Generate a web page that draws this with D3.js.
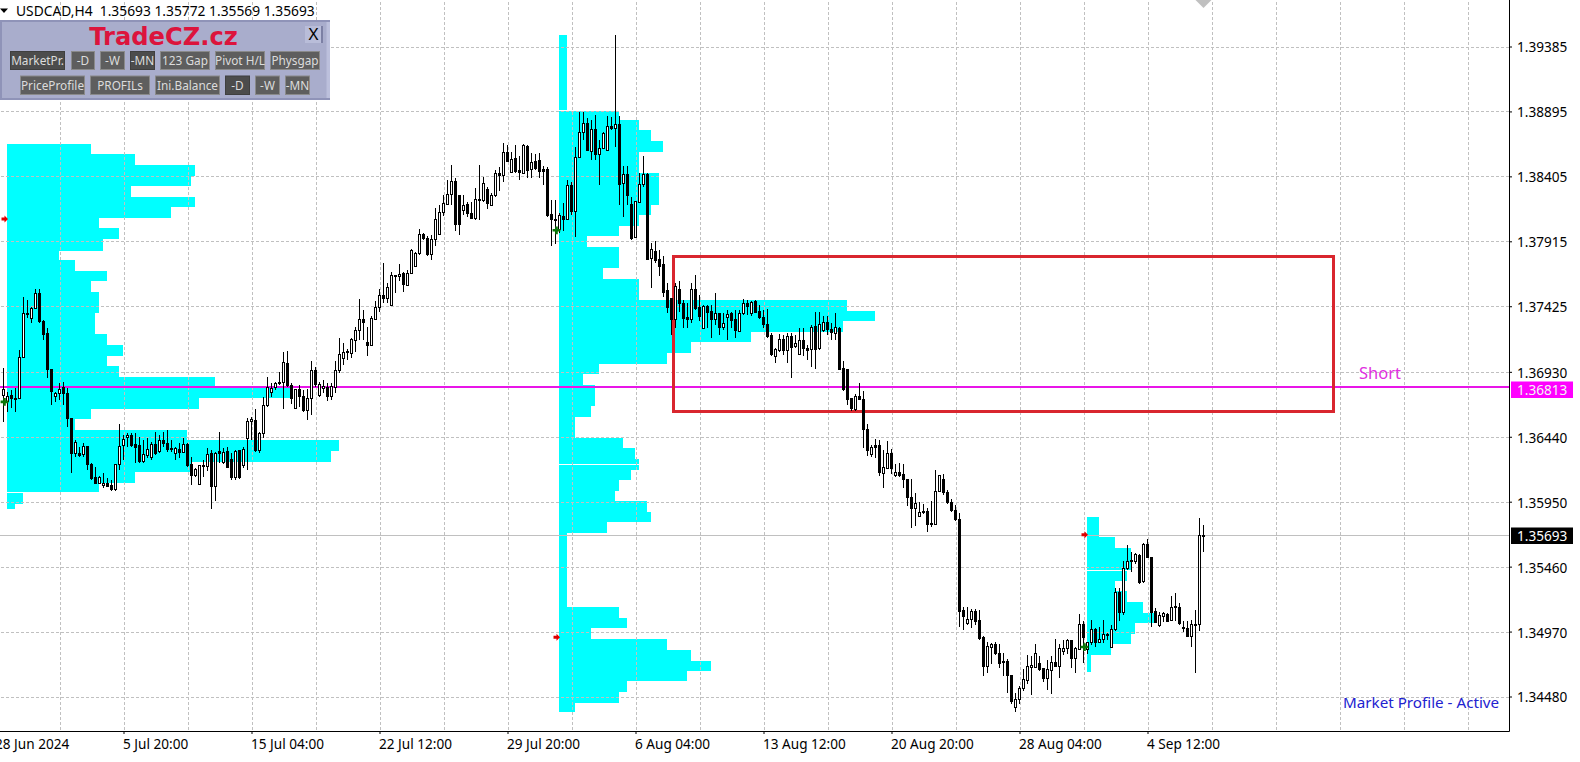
<!DOCTYPE html>
<html>
<head>
<meta charset="utf-8">
<script src="https://cdn.jsdelivr.net/npm/d3@7"></script>
<style>
  body { margin: 0; background: #fff; }
  svg { display: block; }
  text { font-family: "Noto Sans", sans-serif; }
  .axis text { font-size: 13.6px; fill: #000; }
  .axis path, .axis line { stroke: #000; }
  .grid line { stroke: #c0c0c0; stroke-dasharray: 3 2; }
  .grid path, .grid text { display: none; }
</style>
</head>
<body>
<div id="chart"></div>
<script>
const symbolTitle = "USDCAD,H4  1.35693 1.35772 1.35569 1.35693";

const opens = [
  1.36748,1.36706,1.36748,1.36731,1.36731,1.37040,1.37372,1.37334,1.37410,1.37523,
  1.37309,1.37216,1.36950,1.36743,1.36764,1.36811,1.36769,1.36580,1.36311,1.36316,
  1.36303,1.36366,1.36233,1.36132,1.36090,1.36069,1.36090,1.36069,1.36044,1.36228,
  1.36371,1.36437,1.36447,1.36379,1.36371,1.36253,1.36296,1.36286,1.36379,1.36328,
  1.36409,1.36391,1.36354,1.36311,1.36346,1.36323,1.36379,1.36228,1.36145,1.36082,
  1.36215,1.36215,1.36311,1.36064,1.36328,1.36245,1.36328,1.36266,1.36135,1.36333,
  1.36225,1.36427,1.36555,1.36562,1.36333,1.36467,1.36673,1.36774,1.36814,1.36849,
  1.36849,1.36990,1.36824,1.36655,1.36794,1.36743,1.36635,1.36726,1.36937,1.36748,
  1.36806,1.36814,1.36743,1.36814,1.36937,1.37033,1.37076,1.37071,1.37167,1.37239,
  1.37322,1.37154,1.37129,1.37327,1.37418,1.37509,1.37486,1.37433,1.37654,1.37649,
  1.37670,1.37581,1.37675,1.37725,1.37825,1.37969,1.37934,1.37815,1.37926,1.37969,
  1.38132,1.38193,1.38266,1.38366,1.38261,1.38145,1.38190,1.38127,1.38090,1.38228,
  1.38223,1.38308,1.38183,1.38258,1.38429,1.38411,1.38585,1.38434,1.38540,1.38447,
  1.38429,1.38630,1.38454,1.38517,1.38522,1.38454,1.38454,1.38115,1.38082,1.38007,
  1.38102,1.38082,1.38333,1.38140,1.38550,1.38738,1.38806,1.38593,1.38756,1.38572,
  1.38618,1.38600,1.38781,1.38766,1.38799,1.38354,1.38422,1.38195,1.37944,1.38208,
  1.38346,1.38417,1.37785,1.37838,1.37775,1.37737,1.37541,1.37481,1.37328,1.37549,
  1.37448,1.37340,1.37328,1.37549,1.37416,1.37260,1.37423,1.37385,1.37322,1.37368,
  1.37267,1.37343,1.37368,1.37322,1.37237,1.37373,1.37443,1.37373,1.37461,1.37383,
  1.37340,1.37285,1.37202,1.37046,1.37091,1.37177,1.37089,1.37197,1.37121,1.37063,
  1.37167,1.37109,1.37096,1.37272,1.37104,1.37240,1.37302,1.37252,1.37222,1.37260,
  1.36955,1.36945,1.36726,1.36643,1.36744,1.36724,1.36497,1.36304,1.36372,1.36372,
  1.36165,1.36203,1.36311,1.36148,1.36173,1.36153,1.36120,1.35984,1.35899,1.35838,
  1.35876,1.35879,1.35778,1.35781,1.36027,1.36120,1.36022,1.35947,1.35884,1.35818,
  1.35127,1.35034,1.35059,1.35124,1.35051,1.34928,1.34707,1.34850,1.34870,1.34807,
  1.34747,1.34747,1.34639,1.34400,1.34460,1.34538,1.34601,1.34702,1.34702,1.34727,
  1.34689,1.34613,1.34676,1.34739,1.34707,1.34820,1.34845,1.34900,1.34764,1.34837,
  1.35026,1.34832,1.34888,1.34988,1.34888,1.34913,1.34940,1.34852,1.34983,1.35267,
  1.35114,1.35443,1.35496,1.35499,1.35547,1.35348,1.35629,1.35531,1.35121,1.35013,
  1.35084,1.35101,1.35054,1.35149,1.35154,1.35003,1.34996,1.34933,1.35026,1.35021,
  1.35693
];
const highs = [
  1.36957,1.36781,1.36794,1.36806,1.37096,1.37498,1.37473,1.37422,1.37553,1.37553,
  1.37322,1.37259,1.36950,1.36781,1.36844,1.36857,1.36806,1.36580,1.36416,1.36366,
  1.36391,1.36366,1.36240,1.36215,1.36145,1.36165,1.36127,1.36115,1.36228,1.36537,
  1.36454,1.36472,1.36472,1.36472,1.36442,1.36416,1.36429,1.36404,1.36479,1.36454,
  1.36479,1.36492,1.36416,1.36361,1.36391,1.36429,1.36391,1.36291,1.36203,1.36228,
  1.36266,1.36354,1.36341,1.36328,1.36479,1.36354,1.36366,1.36316,1.36341,1.36341,
  1.36366,1.36580,1.36592,1.36648,1.36479,1.36743,1.36894,1.36844,1.36857,1.36932,
  1.37078,1.37088,1.36844,1.36799,1.36831,1.36794,1.36799,1.37015,1.36970,1.36857,
  1.36869,1.36844,1.36844,1.37012,1.37184,1.37146,1.37104,1.37184,1.37272,1.37481,
  1.37398,1.37272,1.37348,1.37461,1.37554,1.37750,1.37599,1.37687,1.37659,1.37742,
  1.37687,1.37700,1.37858,1.37838,1.38009,1.37976,1.37956,1.37964,1.38165,1.38190,
  1.38266,1.38379,1.38492,1.38396,1.38266,1.38266,1.38215,1.38208,1.38316,1.38492,
  1.38404,1.38323,1.38278,1.38454,1.38474,1.38655,1.38643,1.38592,1.38643,1.38555,
  1.38648,1.38643,1.38580,1.38575,1.38585,1.38484,1.38479,1.38228,1.38223,1.38132,
  1.38203,1.38374,1.38359,1.38625,1.38889,1.38887,1.38844,1.38831,1.38869,1.38681,
  1.38743,1.38864,1.38852,1.39473,1.38857,1.38487,1.38484,1.38253,1.38220,1.38434,
  1.38560,1.38429,1.37901,1.37914,1.37851,1.37805,1.37599,1.37486,1.37599,1.37619,
  1.37473,1.37448,1.37599,1.37662,1.37511,1.37436,1.37436,1.37436,1.37524,1.37373,
  1.37373,1.37398,1.37385,1.37398,1.37398,1.37478,1.37473,1.37468,1.37473,1.37436,
  1.37398,1.37403,1.37222,1.37109,1.37217,1.37209,1.37222,1.37222,1.37209,1.37260,
  1.37260,1.37134,1.37285,1.37385,1.37385,1.37353,1.37348,1.37302,1.37373,1.37272,
  1.37008,1.36945,1.36736,1.36764,1.36849,1.36782,1.36538,1.36379,1.36424,1.36417,
  1.36341,1.36409,1.36346,1.36236,1.36241,1.36236,1.36120,1.36120,1.36014,1.35947,
  1.35934,1.35901,1.35952,1.36190,1.36153,1.36160,1.36035,1.35969,1.35926,1.35864,
  1.35154,1.35154,1.35142,1.35144,1.35129,1.34933,1.34895,1.34883,1.34888,1.34878,
  1.34812,1.34762,1.34644,1.34505,1.34556,1.34686,1.34795,1.34782,1.34878,1.34782,
  1.34694,1.34757,1.34787,1.34913,1.34878,1.34908,1.34913,1.34908,1.34857,1.35104,
  1.35046,1.34895,1.35059,1.34996,1.35008,1.35059,1.34958,1.35021,1.35298,1.35298,
  1.35506,1.35624,1.35567,1.35562,1.35554,1.35642,1.35667,1.35536,1.35147,1.35121,
  1.35121,1.35109,1.35240,1.35260,1.35184,1.35046,1.35046,1.35054,1.35134,1.35826,
  1.35772
];
const lows = [
  1.36555,1.36630,1.36655,1.36630,1.36726,1.37040,1.37334,1.37297,1.37402,1.37297,
  1.37171,1.36882,1.36681,1.36706,1.36718,1.36681,1.36517,1.36170,1.36291,1.36291,
  1.36291,1.36190,1.36115,1.36090,1.36082,1.36052,1.36059,1.36027,1.36034,1.36190,
  1.36266,1.36366,1.36366,1.36240,1.36240,1.36240,1.36278,1.36266,1.36303,1.36316,
  1.36366,1.36328,1.36328,1.36266,1.36278,1.36316,1.36215,1.36077,1.36140,1.36077,
  1.36140,1.36178,1.35893,1.35959,1.36240,1.36235,1.36203,1.36115,1.36115,1.36120,
  1.36203,1.36190,1.36416,1.36328,1.36316,1.36429,1.36668,1.36743,1.36794,1.36831,
  1.36648,1.36814,1.36688,1.36648,1.36668,1.36630,1.36567,1.36605,1.36819,1.36743,
  1.36769,1.36713,1.36718,1.36774,1.36920,1.36983,1.37021,1.37033,1.37083,1.37172,
  1.37172,1.37053,1.37126,1.37322,1.37385,1.37448,1.37448,1.37428,1.37524,1.37612,
  1.37529,1.37574,1.37670,1.37720,1.37813,1.37926,1.37805,1.37775,1.37876,1.37964,
  1.38107,1.38190,1.38190,1.37989,1.37964,1.38115,1.38097,1.38082,1.38077,1.38072,
  1.38215,1.38160,1.38178,1.38253,1.38291,1.38366,1.38510,1.38429,1.38434,1.38379,
  1.38424,1.38391,1.38391,1.38454,1.38391,1.38341,1.38102,1.37876,1.37896,1.37976,
  1.37989,1.38077,1.38115,1.37951,1.38542,1.38676,1.38593,1.38530,1.38530,1.38341,
  1.38610,1.38593,1.38756,1.38630,1.38190,1.38095,1.38190,1.37926,1.37939,1.38203,
  1.38328,1.37775,1.37566,1.37750,1.37654,1.37498,1.37373,1.37209,1.37260,1.37385,
  1.37260,1.37260,1.37302,1.37398,1.37310,1.37252,1.37260,1.37184,1.37285,1.37209,
  1.37247,1.37172,1.37260,1.37184,1.37227,1.37360,1.37360,1.37353,1.37373,1.37328,
  1.37260,1.37184,1.37051,1.36996,1.37083,1.37058,1.36996,1.36882,1.37109,1.37058,
  1.37046,1.37021,1.36970,1.36950,1.37096,1.37229,1.37209,1.37167,1.37167,1.36945,
  1.36789,1.36681,1.36638,1.36638,1.36719,1.36354,1.36296,1.36291,1.36279,1.36145,
  1.36052,1.36196,1.36160,1.36140,1.36140,1.36052,1.35914,1.35755,1.35768,1.35833,
  1.35858,1.35718,1.35758,1.35776,1.36020,1.36002,1.35934,1.35869,1.35801,1.35008,
  1.34983,1.35021,1.34996,1.35021,1.34903,1.34631,1.34661,1.34727,1.34795,1.34694,
  1.34631,1.34510,1.34425,1.34360,1.34425,1.34518,1.34576,1.34493,1.34694,1.34669,
  1.34593,1.34530,1.34500,1.34701,1.34618,1.34795,1.34802,1.34694,1.34656,1.34832,
  1.34732,1.34802,1.34870,1.34857,1.34883,1.34883,1.34908,1.34845,1.34971,1.35046,
  1.35096,1.35436,1.35416,1.35481,1.35330,1.35335,1.35524,1.35003,1.35033,1.35003,
  1.35039,1.35039,1.35049,1.35046,1.35021,1.34963,1.34928,1.34857,1.34661,1.34971,
  1.35569
];
const closes = [
  1.36794,1.36743,1.36728,1.36726,1.37040,1.37372,1.37360,1.37410,1.37523,1.37309,
  1.37209,1.36950,1.36781,1.36769,1.36799,1.36769,1.36580,1.36311,1.36399,1.36298,
  1.36366,1.36228,1.36127,1.36090,1.36135,1.36090,1.36064,1.36044,1.36228,1.36366,
  1.36421,1.36447,1.36371,1.36361,1.36253,1.36303,1.36341,1.36379,1.36316,1.36411,
  1.36391,1.36346,1.36341,1.36354,1.36323,1.36379,1.36220,1.36145,1.36195,1.36220,
  1.36225,1.36308,1.36064,1.36316,1.36316,1.36323,1.36210,1.36132,1.36331,1.36135,
  1.36346,1.36555,1.36567,1.36333,1.36467,1.36673,1.36811,1.36806,1.36844,1.36839,
  1.37002,1.36824,1.36731,1.36794,1.36743,1.36635,1.36726,1.36937,1.36831,1.36831,
  1.36819,1.36743,1.36819,1.36937,1.37063,1.37076,1.37083,1.37172,1.37239,1.37322,
  1.37302,1.37129,1.37330,1.37418,1.37509,1.37486,1.37569,1.37659,1.37659,1.37667,
  1.37587,1.37675,1.37843,1.37825,1.37969,1.37939,1.37813,1.37926,1.38077,1.38135,
  1.38198,1.38271,1.38366,1.38039,1.38039,1.38185,1.38127,1.38090,1.38228,1.38223,
  1.38354,1.38198,1.38263,1.38429,1.38411,1.38585,1.38517,1.38535,1.38442,1.38434,
  1.38635,1.38449,1.38512,1.38467,1.38442,1.38442,1.38110,1.38077,1.38077,1.38107,
  1.38082,1.38333,1.38140,1.38550,1.38738,1.38806,1.38600,1.38756,1.38572,1.38618,
  1.38731,1.38781,1.38764,1.38799,1.38346,1.38422,1.38261,1.37939,1.38213,1.38346,
  1.38417,1.37780,1.37851,1.37770,1.37725,1.37529,1.37416,1.37328,1.37574,1.37443,
  1.37330,1.37322,1.37554,1.37410,1.37348,1.37423,1.37378,1.37322,1.37368,1.37267,
  1.37297,1.37363,1.37317,1.37240,1.37373,1.37443,1.37423,1.37456,1.37380,1.37340,
  1.37285,1.37197,1.37063,1.37096,1.37177,1.37089,1.37197,1.37116,1.37141,1.37167,
  1.37104,1.37091,1.37267,1.37096,1.37290,1.37302,1.37247,1.37229,1.37267,1.36950,
  1.36794,1.36719,1.36651,1.36744,1.36719,1.36497,1.36336,1.36359,1.36359,1.36170,
  1.36211,1.36311,1.36198,1.36173,1.36148,1.36120,1.35982,1.35899,1.35939,1.35871,
  1.35866,1.35781,1.35783,1.36030,1.36150,1.36020,1.35947,1.35884,1.35813,1.35122,
  1.35084,1.35064,1.35122,1.35046,1.34920,1.34707,1.34857,1.34870,1.34807,1.34727,
  1.34737,1.34639,1.34442,1.34460,1.34543,1.34606,1.34707,1.34712,1.34807,1.34681,
  1.34613,1.34681,1.34739,1.34707,1.34845,1.34845,1.34900,1.34764,1.34840,1.35026,
  1.34925,1.34888,1.34988,1.34888,1.34913,1.34945,1.34950,1.34988,1.35265,1.35114,
  1.35448,1.35501,1.35506,1.35549,1.35343,1.35629,1.35531,1.35114,1.35039,1.35089,
  1.35109,1.35046,1.35154,1.35159,1.35028,1.34993,1.34933,1.35026,1.35016,1.35693,
  1.35693
];

// Market profile rows: top price of each row, the last entry is the bottom edge.
// Counts are TPOs per row, one bar width each. 0 is the thin gap left by the indicator.
const profileAStart = 1;
const profileATops = [1.38649,1.38574,1.38491,1.38408,1.38332,1.38249,1.38174,1.38091,1.38016,1.37933,1.37842,1.37774,1.37691,1.37616,1.37533,1.37450,1.37374,1.37295,1.37216,1.37133,1.37050,1.36974,1.36891,1.36816,1.36733,1.36650,1.36574,1.36491,1.36416,1.36333,1.36250,1.36174,1.36091,1.36023,1.36012,1.35933,1.35895];
const profileACounts = [21,32,47,46,31,47,41,23,28,24,13,17,25,21,23,23,22,22,25,29,25,28,52,71,48,21,17,45,83,81,46,32,23,0,4,2];

const profileBStart = 139;
const profileBTops = [1.39472,1.38906,1.38901,1.38830,1.38755,1.38672,1.38589,1.38433,1.38189,1.38114,1.38033,1.37955,1.37874,1.37714,1.37633,1.37472,1.37392,1.37311,1.37231,1.37155,1.37075,1.36992,1.36914,1.36831,1.36672,1.36592,1.36433,1.36353,1.36272,1.36237,1.36229,1.36189,1.36114,1.36033,1.35953,1.35872,1.35797,1.35716,1.35158,1.35073,1.34995,1.34914,1.34831,1.34750,1.34673,1.34597,1.34514,1.34433,1.34366];
const profileBCounts = [2,0,15,20,23,26,20,25,23,20,15,7,15,11,20,72,79,71,48,33,27,10,6,9,8,4,16,19,20,0,20,18,15,14,22,23,12,2,15,17,8,27,33,38,32,17,15,4];

const profileCStart = 271;
const profileCTops = [1.35837,1.35682,1.35598,1.35435,1.35427,1.35354,1.35278,1.35195,1.35112,1.35032,1.34952,1.34876,1.34793,1.34667];
const profileCCounts = [3,7,11,0,10,7,10,14,17,12,11,6,1];

const markerBars = [0.25, 138.25, 270.25];
const highMarkerPrices = [1.38084, 1.34928, 1.35700];
const lowMarkerPrices = [1.36703, 1.37998, 1.34853];

const boxBars = [167.6, 332.5];
const boxPrices = [1.37802, 1.36628];

const shortPrice = 1.36813;
const lastPrice = 1.35693;

const priceTicks = [1.39385,1.38895,1.38405,1.37915,1.37425,1.36930,1.36440,1.35950,1.35460,1.34970,1.34480];
const timeTickBars = [-2,30,62,94,126,158,190,222,254,286];
const timeTickLabels = ["28 Jun 2024","5 Jul 20:00","15 Jul 04:00","22 Jul 12:00","29 Jul 20:00","6 Aug 04:00","13 Aug 12:00","20 Aug 20:00","28 Aug 04:00","4 Sep 12:00"];
const gridBars = d3.range(14, 370, 16);

const panelRow1 = ["MarketPr.","-D","-W","-MN","123 Gap","Pivot H/L","Physgap"];
const panelRow2 = ["PriceProfile","PROFILs","Ini.Balance","-D","-W","-MN"];
const panelRow1Pressed = ["MarketPr.","-MN"];
const panelRow2Pressed = ["-D"];

const WIDTH = 1580, HEIGHT = 762;
const PLOT_RIGHT = 1509, PLOT_BOTTOM = 731;

const CYAN = "#00ffff";
const MAGENTA = "#e815e8";
const BOX_RED = "#d9262e";
const GRID = "#c0c0c0";

const svg = d3.select("#chart").append("svg").attr("width", WIDTH).attr("height", HEIGHT);

const x = d3.scaleLinear().domain([0, 300]).range([3.5, 1203.5]);
const y = d3.scaleLinear().domain([1.3448, 1.39385]).range([696.5, 46.5]);

// Profiles sit under everything else
function drawProfile(start, tops, counts) {
  svg.append("g").attr("shape-rendering", "crispEdges")
    .selectAll("rect").data(counts).enter().append("rect")
    .attr("x", x(start) - 0.5)
    .attr("y", (d, i) => y(tops[i]))
    .attr("width", d => x(start + d) - x(start))
    .attr("height", (d, i) => y(tops[i + 1]) - y(tops[i]))
    .attr("fill", CYAN);
}
drawProfile(profileAStart, profileATops, profileACounts);
drawProfile(profileBStart, profileBTops, profileBCounts);
drawProfile(profileCStart, profileCTops, profileCCounts);

// Grid
svg.append("g").attr("class", "grid").attr("shape-rendering", "crispEdges")
  .attr("transform", `translate(${PLOT_RIGHT},0)`)
  .call(d3.axisLeft(y).tickValues(priceTicks).tickSize(PLOT_RIGHT).tickFormat(""));
svg.append("g").attr("class", "grid").attr("shape-rendering", "crispEdges")
  .attr("transform", `translate(0,${PLOT_BOTTOM - 1})`)
  .call(d3.axisTop(x).tickValues(gridBars.filter(b => x(b) < PLOT_RIGHT)).tickSize(PLOT_BOTTOM).tickFormat(""));

// Objects
svg.append("line")
  .attr("x1", 0).attr("x2", PLOT_RIGHT)
  .attr("y1", y(lastPrice)).attr("y2", y(lastPrice))
  .attr("stroke", GRID).attr("shape-rendering", "crispEdges");

svg.append("line")
  .attr("x1", 0).attr("x2", PLOT_RIGHT)
  .attr("y1", Math.round(y(shortPrice))).attr("y2", Math.round(y(shortPrice)))
  .attr("stroke", MAGENTA).attr("stroke-width", 2).attr("shape-rendering", "crispEdges");

svg.append("rect")
  .attr("x", x(boxBars[0])).attr("y", y(boxPrices[0]))
  .attr("width", x(boxBars[1]) - x(boxBars[0]))
  .attr("height", y(boxPrices[1]) - y(boxPrices[0]))
  .attr("fill", "none").attr("stroke", BOX_RED).attr("stroke-width", 3)
  .attr("shape-rendering", "crispEdges");

svg.append("text").attr("x", 1359).attr("y", 379)
  .attr("font-size", 16.5).attr("fill", "#e030e0").text("Short");

// Candles
const bars = opens.map((o, i) => ({ i, o, h: highs[i], l: lows[i], c: closes[i] }));
const candles = svg.append("g").attr("shape-rendering", "crispEdges")
  .selectAll("g").data(bars).enter().append("g");

candles.append("line")
  .attr("x1", d => x(d.i)).attr("x2", d => x(d.i))
  .attr("y1", d => y(d.h)).attr("y2", d => y(d.l))
  .attr("stroke", "#000");

candles.append("rect")
  .attr("x", d => x(d.i) - 1)
  .attr("width", 2)
  .attr("y", d => y(Math.max(d.o, d.c)))
  .attr("height", d => Math.max(1, y(Math.min(d.o, d.c)) - y(Math.max(d.o, d.c))))
  .attr("fill", d => d.c >= d.o ? "#fff" : "#000")
  .attr("stroke", "#000");

// Profile start arrows
const arrow = "M-3,-1.5L0,-1.5L0,-3.5L3.5,0L0,3.5L0,1.5L-3,1.5Z";
svg.append("g").selectAll("path").data(markerBars).enter().append("path")
  .attr("d", arrow)
  .attr("transform", (d, i) => `translate(${x(d)},${y(highMarkerPrices[i])})`)
  .attr("fill", "#e00000");
svg.append("g").selectAll("path").data(markerBars).enter().append("path")
  .attr("d", d3.symbol(d3.symbolCross, 34)())
  .attr("transform", (d, i) => `translate(${x(d)},${y(lowMarkerPrices[i])})`)
  .attr("fill", "#0a780a");

// Axes
const yAxis = svg.append("g").attr("class", "axis")
  .attr("transform", `translate(${PLOT_RIGHT},0)`)
  .call(d3.axisRight(y).tickValues(priceTicks).tickSize(3).tickSizeOuter(0).tickPadding(5).tickFormat(d3.format(".5f")));
yAxis.select(".domain").attr("d", `M0.5,0V${PLOT_BOTTOM + 0.5}`);
yAxis.selectAll("text").attr("dy", "0.4em");

const xAxis = svg.append("g").attr("class", "axis")
  .attr("transform", `translate(0,${PLOT_BOTTOM})`)
  .call(d3.axisBottom(x).tickValues(timeTickBars).tickSize(3).tickSizeOuter(0).tickPadding(5)
    .tickFormat((d, i) => timeTickLabels[i]));
xAxis.select(".domain").attr("d", `M0,0.5H${PLOT_RIGHT + 0.5}`);
xAxis.selectAll("text").attr("text-anchor", "start").attr("dx", -1);

// Price tags on the axis
function priceTag(price, fill, color, boxY) {
  svg.append("rect").attr("x", 1511).attr("y", boxY).attr("width", 62).attr("height", 16.5).attr("fill", fill);
  svg.append("text").attr("x", 1517).attr("y", boxY + 13)
    .attr("font-size", 13.6).attr("fill", color).text(d3.format(".5f")(price));
}
priceTag(shortPrice, "#ff00ff", "#f4f4f4", 381.5);
priceTag(lastPrice, "#000", "#fff", 527.5);

// Shift marker at the top of the last bar
svg.append("path")
  .attr("d", `M${x(300) - 8},0H${x(300) + 8}L${x(300)},8Z`)
  .attr("fill", "#c0c0c0");

svg.append("text").attr("x", 1343).attr("y", 708)
  .attr("font-size", 15.2).attr("fill", "#2222d0").text("Market Profile - Active");

// Title
svg.append("path").attr("d", "M0,8.5H8L4,13Z").attr("fill", "#000");
svg.append("text").attr("x", 16).attr("y", 15.5)
  .attr("font-size", 13.8).attr("fill", "#000").style("white-space", "pre").text(symbolTitle);

// Control panel
const panel = svg.append("g");
panel.append("rect").attr("x", 0).attr("y", 20).attr("width", 330).attr("height", 80).attr("fill", "#8f93b8");
panel.append("rect").attr("x", 2).attr("y", 22).attr("width", 328).attr("height", 76).attr("fill", "#a9adcc");
panel.append("rect").attr("x", 326.5).attr("y", 22).attr("width", 3.5).attr("height", 76).attr("fill", "#bcc0dc");

panel.append("text").attr("x", 163.5).attr("y", 45)
  .attr("text-anchor", "middle")
  .style("font-family", "'DejaVu Sans', sans-serif").attr("font-weight", "bold")
  .attr("font-size", 24.2).attr("fill", "#dc143c").text("TradeCZ.cz");

panel.append("rect").attr("x", 305).attr("y", 26).attr("width", 18).attr("height", 17).attr("fill", "#b9bdd9");
panel.append("rect").attr("x", 321).attr("y", 26).attr("width", 2).attr("height", 17).attr("fill", "#7c80a4");
panel.append("text").attr("x", 313.5).attr("y", 40).attr("text-anchor", "middle")
  .attr("font-size", 17).attr("fill", "#000").text("X");

function drawButtons(labels, pressed, lefts, rights, top, bottom) {
  const g = panel.append("g").selectAll("g").data(labels).enter().append("g");
  g.append("rect")
    .attr("x", (d, i) => lefts[i]).attr("y", top)
    .attr("width", (d, i) => rights[i] - lefts[i]).attr("height", bottom - top)
    .attr("fill", d => pressed.includes(d) ? "#3f3f3f" : "#8a8a8a");
  g.append("rect")
    .attr("x", (d, i) => lefts[i] + 1).attr("y", top + 1)
    .attr("width", (d, i) => rights[i] - lefts[i] - 2).attr("height", bottom - top - 2)
    .attr("fill", d => pressed.includes(d) ? "#4c4c4c" : "#5e5e5e");
  g.append("text")
    .attr("x", (d, i) => (lefts[i] + rights[i]) / 2).attr("y", bottom - 5)
    .attr("text-anchor", "middle").attr("font-size", 11.8).attr("fill", "#dcdcdc")
    .text(d => d);
}
drawButtons(panelRow1, panelRow1Pressed,
  [10,71,100,130,160,215,270], [65,95,125,155,210,265,320], 51, 70);
drawButtons(panelRow2, panelRow2Pressed,
  [20,90,155,225,255,285], [85,150,220,250,280,310], 75.5, 95);
</script>
</body>
</html>
